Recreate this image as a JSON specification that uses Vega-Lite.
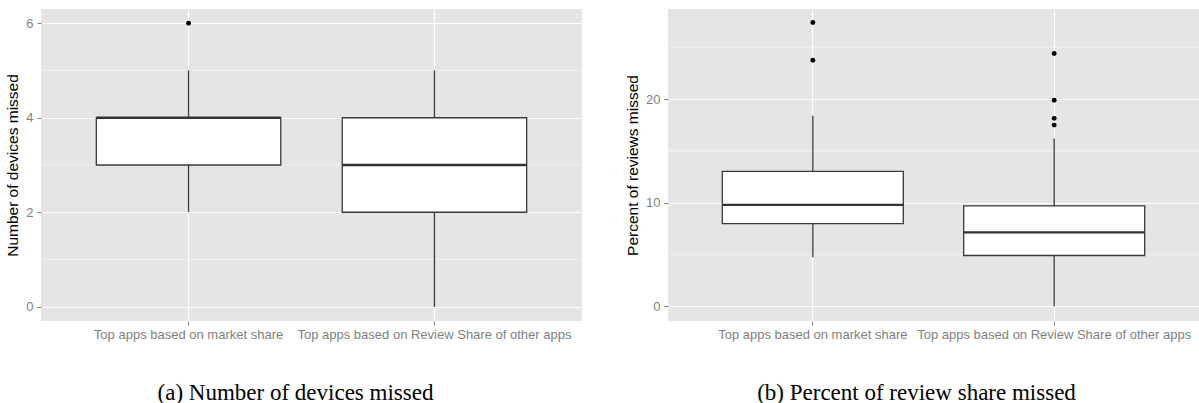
{
  "$schema": "https://vega.github.io/schema/vega-lite/v6.json",
  "padding": {"left": 5, "top": 9, "right": 0, "bottom": 0},
  "background": "white",
  "spacing": 42,
  "datasets": {
    "devices_box": [
      {"group": "Top apps based on market share", "lower": 2, "q1": 3, "median": 4, "q3": 4, "upper": 5},
      {"group": "Top apps based on Review Share of other apps", "lower": 0, "q1": 2, "median": 3, "q3": 4, "upper": 5}
    ],
    "devices_out": [
      {"group": "Top apps based on market share", "value": 6}
    ],
    "devices_minor": [{"v": 1}, {"v": 3}, {"v": 5}],
    "reviews_box": [
      {"group": "Top apps based on market share", "lower": 4.76, "q1": 7.99, "median": 9.8, "q3": 13.04, "upper": 18.4},
      {"group": "Top apps based on Review Share of other apps", "lower": 0, "q1": 4.92, "median": 7.15, "q3": 9.7, "upper": 16.2}
    ],
    "reviews_out": [
      {"group": "Top apps based on market share", "value": 27.4},
      {"group": "Top apps based on market share", "value": 23.75},
      {"group": "Top apps based on Review Share of other apps", "value": 24.4},
      {"group": "Top apps based on Review Share of other apps", "value": 19.9},
      {"group": "Top apps based on Review Share of other apps", "value": 18.15},
      {"group": "Top apps based on Review Share of other apps", "value": 17.5}
    ],
    "reviews_minor": [{"v": 5}, {"v": 15}, {"v": 25}]
  },
  "hconcat": [
    {
      "width": 541,
      "height": 312,
      "layer": [
        {
          "data": {"name": "devices_minor"},
          "mark": {"type": "rule", "color": "#F2F2F2", "strokeWidth": 0.9},
          "encoding": {
            "y": {"field": "v", "type": "quantitative", "scale": {"domain": [-0.3, 6.3], "nice": false, "zero": false},
                  "axis": {"title": "Number of devices missed", "values": [0, 2, 4, 6]}}
          }
        },
        {
          "data": {"name": "devices_box"},
          "mark": {"type": "rule", "color": "#3A3A3A", "strokeWidth": 1.3},
          "encoding": {
            "x": {"field": "group", "type": "nominal",
                  "scale": {"type": "band", "domain": ["Top apps based on market share", "Top apps based on Review Share of other apps"], "paddingInner": 0.25, "paddingOuter": 0.225},
                  "axis": {"title": "(a) Number of devices missed", "titleX": 254, "bandPosition": 0.5}},
            "y": {"field": "lower", "type": "quantitative", "scale": {"domain": [-0.3, 6.3], "nice": false, "zero": false},
                  "axis": {"title": "Number of devices missed", "values": [0, 2, 4, 6]}},
            "y2": {"field": "upper"}
          }
        },
        {
          "data": {"name": "devices_box"},
          "mark": {"type": "rect", "fill": "white", "stroke": "#3A3A3A", "strokeWidth": 1.3},
          "encoding": {
            "x": {"field": "group", "type": "nominal",
                  "scale": {"type": "band", "domain": ["Top apps based on market share", "Top apps based on Review Share of other apps"], "paddingInner": 0.25, "paddingOuter": 0.225},
                  "axis": {"title": "(a) Number of devices missed", "titleX": 254, "bandPosition": 0.5}},
            "y": {"field": "q1", "type": "quantitative", "scale": {"domain": [-0.3, 6.3], "nice": false, "zero": false},
                  "axis": {"title": "Number of devices missed", "values": [0, 2, 4, 6]}},
            "y2": {"field": "q3"}
          }
        },
        {
          "data": {"name": "devices_box"},
          "mark": {"type": "rect", "fill": "#333333", "stroke": "#333333", "strokeWidth": 2.4},
          "encoding": {
            "x": {"field": "group", "type": "nominal",
                  "scale": {"type": "band", "domain": ["Top apps based on market share", "Top apps based on Review Share of other apps"], "paddingInner": 0.25, "paddingOuter": 0.225},
                  "axis": {"title": "(a) Number of devices missed", "titleX": 254, "bandPosition": 0.5}},
            "y": {"field": "median", "type": "quantitative", "scale": {"domain": [-0.3, 6.3], "nice": false, "zero": false},
                  "axis": {"title": "Number of devices missed", "values": [0, 2, 4, 6]}},
            "y2": {"field": "median"}
          }
        },
        {
          "data": {"name": "devices_out"},
          "mark": {"type": "point", "filled": true, "color": "black", "opacity": 1, "size": 24},
          "encoding": {
            "x": {"field": "group", "type": "nominal",
                  "scale": {"type": "band", "domain": ["Top apps based on market share", "Top apps based on Review Share of other apps"], "paddingInner": 0.25, "paddingOuter": 0.225},
                  "axis": {"title": "(a) Number of devices missed", "titleX": 254, "bandPosition": 0.5}},
            "y": {"field": "value", "type": "quantitative", "scale": {"domain": [-0.3, 6.3], "nice": false, "zero": false},
                  "axis": {"title": "Number of devices missed", "values": [0, 2, 4, 6]}}
          }
        }
      ]
    },
    {
      "width": 531,
      "height": 312,
      "layer": [
        {
          "data": {"name": "reviews_minor"},
          "mark": {"type": "rule", "color": "#F2F2F2", "strokeWidth": 0.9},
          "encoding": {
            "y": {"field": "v", "type": "quantitative", "scale": {"domain": [-1.4, 28.7], "nice": false, "zero": false},
                  "axis": {"title": "Percent of reviews missed", "values": [0, 10, 20]}}
          }
        },
        {
          "data": {"name": "reviews_box"},
          "mark": {"type": "rule", "color": "#3A3A3A", "strokeWidth": 1.3},
          "encoding": {
            "x": {"field": "group", "type": "nominal",
                  "scale": {"type": "band", "domain": ["Top apps based on market share", "Top apps based on Review Share of other apps"], "paddingInner": 0.25, "paddingOuter": 0.225},
                  "axis": {"title": "(b) Percent of review share missed", "titleX": 248, "bandPosition": 0.5}},
            "y": {"field": "lower", "type": "quantitative", "scale": {"domain": [-1.4, 28.7], "nice": false, "zero": false},
                  "axis": {"title": "Percent of reviews missed", "values": [0, 10, 20]}},
            "y2": {"field": "upper"}
          }
        },
        {
          "data": {"name": "reviews_box"},
          "mark": {"type": "rect", "fill": "white", "stroke": "#3A3A3A", "strokeWidth": 1.3},
          "encoding": {
            "x": {"field": "group", "type": "nominal",
                  "scale": {"type": "band", "domain": ["Top apps based on market share", "Top apps based on Review Share of other apps"], "paddingInner": 0.25, "paddingOuter": 0.225},
                  "axis": {"title": "(b) Percent of review share missed", "titleX": 248, "bandPosition": 0.5}},
            "y": {"field": "q1", "type": "quantitative", "scale": {"domain": [-1.4, 28.7], "nice": false, "zero": false},
                  "axis": {"title": "Percent of reviews missed", "values": [0, 10, 20]}},
            "y2": {"field": "q3"}
          }
        },
        {
          "data": {"name": "reviews_box"},
          "mark": {"type": "rect", "fill": "#333333", "stroke": "#333333", "strokeWidth": 2.4},
          "encoding": {
            "x": {"field": "group", "type": "nominal",
                  "scale": {"type": "band", "domain": ["Top apps based on market share", "Top apps based on Review Share of other apps"], "paddingInner": 0.25, "paddingOuter": 0.225},
                  "axis": {"title": "(b) Percent of review share missed", "titleX": 248, "bandPosition": 0.5}},
            "y": {"field": "median", "type": "quantitative", "scale": {"domain": [-1.4, 28.7], "nice": false, "zero": false},
                  "axis": {"title": "Percent of reviews missed", "values": [0, 10, 20]}},
            "y2": {"field": "median"}
          }
        },
        {
          "data": {"name": "reviews_out"},
          "mark": {"type": "point", "filled": true, "color": "black", "opacity": 1, "size": 24},
          "encoding": {
            "x": {"field": "group", "type": "nominal",
                  "scale": {"type": "band", "domain": ["Top apps based on market share", "Top apps based on Review Share of other apps"], "paddingInner": 0.25, "paddingOuter": 0.225},
                  "axis": {"title": "(b) Percent of review share missed", "titleX": 248, "bandPosition": 0.5}},
            "y": {"field": "value", "type": "quantitative", "scale": {"domain": [-1.4, 28.7], "nice": false, "zero": false},
                  "axis": {"title": "Percent of reviews missed", "values": [0, 10, 20]}}
          }
        }
      ]
    }
  ],
  "config": {
    "view": {"fill": "#E5E5E5", "stroke": null},
    "axis": {
      "domain": false,
      "grid": true,
      "gridColor": "#FFFFFF",
      "gridWidth": 1.2,
      "labelFont": "Liberation Sans",
      "labelFontSize": 13,
      "labelColor": "#7F7F7F",
      "tickColor": "#7F7F7F",
      "tickSize": 4,
      "labelPadding": 4,
      "titleFontWeight": "normal",
      "titleColor": "#000000"
    },
    "axisX": {
      "labelAngle": 0,
      "labelPadding": 3,
      "labelLimit": 400,
      "labelOverlap": false,
      "titleFont": "Liberation Serif",
      "titleFontSize": 23,
      "titlePadding": 40
    },
    "axisY": {
      "titleFont": "Liberation Sans",
      "titleFontSize": 15.5,
      "titlePadding": 5
    }
  }
}
